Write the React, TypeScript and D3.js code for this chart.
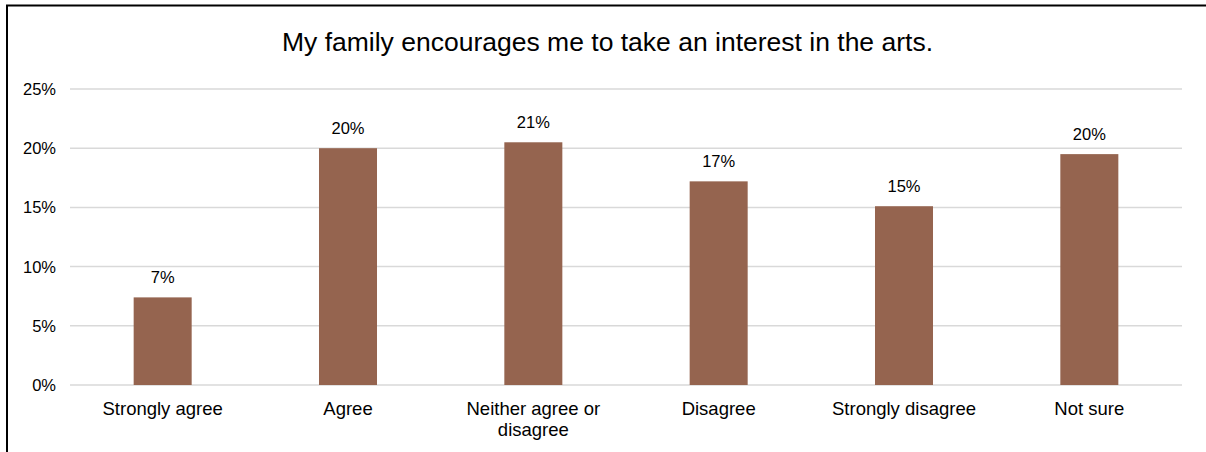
import React from "react";
import * as d3 from "d3";

const categories: string[] = ["Strongly agree", "Agree", "Neither agree or disagree", "Disagree", "Strongly disagree", "Not sure"];
const values: number[] = [7.4, 20.0, 20.5, 17.2, 15.1, 19.5];
const yTicks: number[] = [0, 5, 10, 15, 20, 25];
const title = "My family encourages me to take an interest in the arts.";

const W = 1206;
const H = 452;
const left = 70;
const right = 1182;
const top = 89;
const bottom = 385;

function wrap(label: string): string[] {
  if (label === "Neither agree or disagree") return ["Neither agree or", "disagree"];
  return [label];
}

export default function App() {
  const x = d3.scaleBand<string>().domain(categories).range([left, right]).paddingInner(0.687).paddingOuter(0.3435);
  const y = d3.scaleLinear().domain([0, 25]).range([bottom, top]);
  const font = "'Liberation Sans', Arial, sans-serif";
  return (
    <svg width={W} height={H} style={{ position: "absolute", left: 0, top: 0, fontFamily: font }}>
      <rect x={0} y={0} width={W} height={H} fill="#fff" />
      <path d={`M7,${H} V5.5 H${W}`} fill="none" stroke="#000" strokeWidth={2} />
      <text x={607.5} y={51} textAnchor="middle" fontSize={26.5} fill="#000">{title}</text>
      {yTicks.map((t) => (
        <g key={t}>
          <line x1={left} x2={right} y1={y(t)} y2={y(t)} stroke="#D9D9D9" strokeWidth={1.5} />
          <text x={56} y={y(t) + 6} textAnchor="end" fontSize={16.5} fill="#000">{t}%</text>
        </g>
      ))}
      {categories.map((c, i) => (
        <g key={c}>
          <rect x={x(c)} y={y(values[i])} width={x.bandwidth()} height={bottom - y(values[i])} fill="#95644F" />
          <text x={(x(c) as number) + x.bandwidth() / 2} y={y(values[i]) - 14} textAnchor="middle" fontSize={16.5} fill="#000">{Math.round(values[i])}%</text>
          {wrap(c).map((line, k) => (
            <text key={k} x={(x(c) as number) + x.bandwidth() / 2} y={414.5 + k * 21} textAnchor="middle" fontSize={18.5} fill="#000">{line}</text>
          ))}
        </g>
      ))}
    </svg>
  );
}
